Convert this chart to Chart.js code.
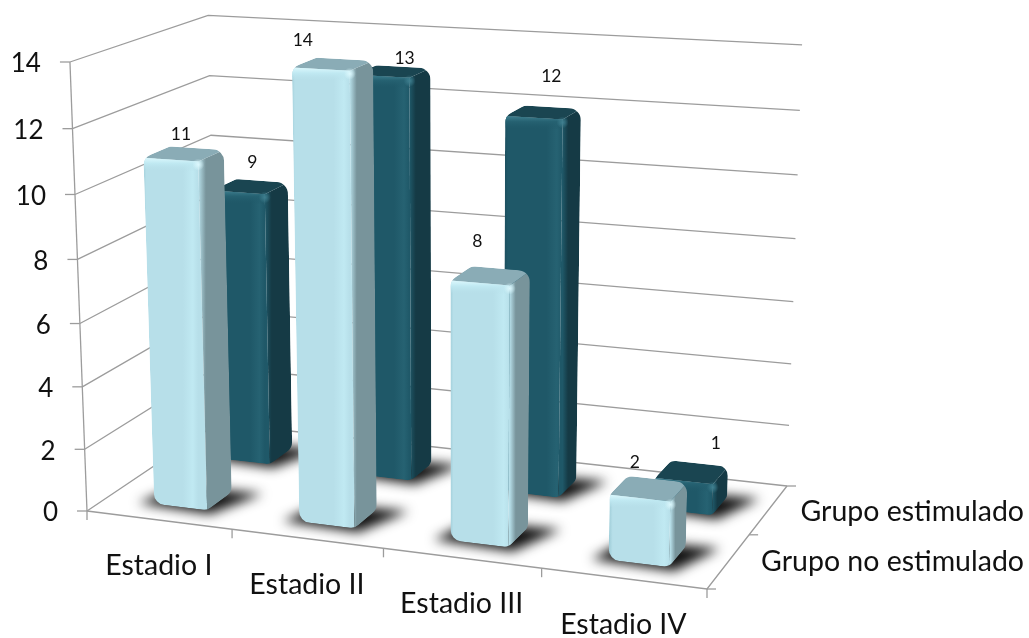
<!DOCTYPE html>
<html>
<head>
<meta charset="utf-8">
<title>Estadios</title>
<script src="https://cdn.jsdelivr.net/npm/chart.js@4"></script>
<style>
  html,body{margin:0;padding:0;background:#fff;}
  canvas{display:block;}
</style>
</head>
<body>
<canvas id="bars3d" width="1029" height="638"></canvas>
<script>
  var categories   = ['Estadio I','Estadio II','Estadio III','Estadio IV'];
  var seriesNames  = ['Grupo no estimulado','Grupo estimulado'];
  var noEstimulado = [11,14,8,2];
  var estimulado   = [9,13,12,1];

  // --- Perspective box: floor corners and the point the verticals run to ---
  var floorQuad = [[87,511],[707,589],[787,486],[218,423]];
  var vanish    = [455,10200];
  var rowCenter = [0.255,0.755];
  var barDepth  = 0.095;
  var barDrop   = 2.5;
  var gridColor = '#9c9c9c';
  var labelFont = 'Lato, "Open Sans", sans-serif';
  // the value labels sit by hand in the original, not centred on the bars
  var labelNudge = [[-3,9],[-30,5],[-13,-6],[-14,2]];
  var labelNudgeBack = [[2,4],[12,15],[8,-7],[24,0]];
  var faces = [
    {edge:'#a3d0db',front:'#b7dfe9',glow:'#c0e9f2',side:'#78949b',top:'#8aacb6',spot:'#dcf8fd'},
    {edge:'#1c5060',front:'#1f5868',glow:'#266272',side:'#153a45',top:'#1a4551',spot:'#3f7f8f'}
  ];

  // unit square -> quad homography, also hands back the scale at that spot
  function homography(q){
    var x0=q[0][0],y0=q[0][1],x1=q[1][0],y1=q[1][1],x2=q[2][0],y2=q[2][1],x3=q[3][0],y3=q[3][1];
    var dx1=x1-x2,dx2=x3-x2,sx=x0-x1+x2-x3,dy1=y1-y2,dy2=y3-y2,sy=y0-y1+y2-y3;
    var den=dx1*dy2-dx2*dy1;
    var g=(sx*dy2-dx2*sy)/den,h=(dx1*sy-sx*dy1)/den;
    var a=x1-x0+g*x1,b=x3-x0+h*x3,d=y1-y0+g*y1,e=y3-y0+h*y3;
    return function(u,v){
      var w=g*u+h*v+1;
      return [(a*u+b*v+x0)/w,(d*u+e*v+y0)/w,w];
    };
  }
  var floorAt = homography(floorQuad);
  var fullHeight = 449; // height of the value axis at the front-left corner

  // t: along categories, d: depth, v: share of the value axis
  function P(t,d,v){
    var f=floorAt(t,d);
    var H=fullHeight/f[2],D=vanish[1]-f[1],b=(D+H)/H;
    var up=D*v/(b-v);
    return [f[0]+(f[0]-vanish[0])/D*up,f[1]-up];
  }
  function tOf(chart,px){ var a=chart.chartArea; return (px-a.left)/(a.right-a.left); }
  function vOf(chart,py){ var a=chart.chartArea; return (a.bottom-py)/(a.bottom-a.top); }

  function line(ctx,pts){
    ctx.beginPath();
    pts.forEach(function(p,i){ if(i) ctx.lineTo(p[0],p[1]); else ctx.moveTo(p[0],p[1]); });
    ctx.stroke();
  }
  function quad(ctx,pts,fill){
    ctx.beginPath();
    pts.forEach(function(p,i){ if(i) ctx.lineTo(p[0],p[1]); else ctx.moveTo(p[0],p[1]); });
    ctx.closePath();
    ctx.fillStyle=fill;
    ctx.fill();
  }
  function roundedPath(ctx,pts,r){
    var n=pts.length;
    ctx.beginPath();
    ctx.moveTo((pts[n-1][0]+pts[0][0])/2,(pts[n-1][1]+pts[0][1])/2);
    for(var i=0;i<n;i++){
      var a=pts[i],b=pts[(i+1)%n];
      ctx.arcTo(a[0],a[1],b[0],b[1],r);
    }
    ctx.closePath();
  }

  // --- Walls, floor, ticks and axis text ---
  function drawBox(chart){
    var ctx=chart.ctx,y=chart.scales.y,x=chart.scales.x;
    ctx.save();
    ctx.strokeStyle=gridColor;
    ctx.lineWidth=1.3;
    ctx.fillStyle='#111';
    ctx.textBaseline='middle';
    y.ticks.forEach(function(tk){
      var v=vOf(chart,y.getPixelForValue(tk.value));
      var a=P(0,0,v);
      line(ctx,[a,P(0,1,v),P(1,1,v)]);
      line(ctx,[[a[0]-10,a[1]],a]);
      ctx.font='26px '+labelFont;
      ctx.textAlign='right';
      ctx.fillText(tk.label,a[0]-29,a[1]+2);
    });
    line(ctx,[P(0,0,1),P(0,0,0)]);
    line(ctx,[P(0,0,0),P(1,0,0),P(1,1,0)]);
    // category ticks and labels follow the slanted front edge
    ctx.font='28.5px '+labelFont;
    categories.forEach(function(name,i){
      var half=(x.getPixelForValue(i+1)-x.getPixelForValue(i))/2;
      var e=P(tOf(chart,x.getPixelForValue(i)-half),0,0);
      line(ctx,[e,[e[0],e[1]+9]]);
      var c=P(tOf(chart,x.getPixelForValue(i)),0,0);
      ctx.textAlign='center';
      ctx.fillText(name,c[0],c[1]+46);
    });
    var last=P(1,0,0);
    line(ctx,[last,[last[0],last[1]+9]]);
    [0,0.5,1].forEach(function(d){
      var e=P(1,d,0);
      line(ctx,[e,[e[0]+9,e[1]]]);
    });
    ctx.textAlign='right';
    ctx.fillText(seriesNames[1],1024,512);
    ctx.fillText(seriesNames[0],1024,562);
    ctx.restore();
  }

  // --- One bar: floor shadow, then the three faces inside a rounded outline ---
  function drawBar(chart,el,row){
    var ctx=chart.ctx,f=faces[row];
    var t0=tOf(chart,el.x-el.width/2),t1=tOf(chart,el.x+el.width/2);
    var d0=rowCenter[row]-barDepth,d1=rowCenter[row]+barDepth;
    var v=vOf(chart,el.y);
    var A=P(t0,d0,0),B=P(t1,d0,0),C=P(t1,d1,0);
    var D=P(t0,d0,v),E=P(t1,d0,v),F=P(t1,d1,v),G=P(t0,d1,v);

    ctx.save();
    ctx.translate(0,barDrop);
    ctx.save();
    ctx.filter='blur(6px)';
    quad(ctx,[P(t0-0.025,d0-0.012,0),P(t1+0.012,d0-0.03,0),P(t1+0.05,d1+0.02,0),P(t0,d1,0)],'#111');
    ctx.restore();

    roundedPath(ctx,[A,B,C,F,G,D],Math.min(12,(A[1]-D[1])/3));
    ctx.clip();

    var g=ctx.createLinearGradient(D[0],0,E[0],0);
    g.addColorStop(0,f.edge);
    g.addColorStop(0.05,f.front);
    g.addColorStop(0.72,f.front);
    g.addColorStop(0.9,f.glow);
    g.addColorStop(1,f.front);
    quad(ctx,[A,B,E,D],g);

    var s=ctx.createLinearGradient(E[0],0,F[0],0);
    s.addColorStop(0,f.front);
    s.addColorStop(0.3,f.side);
    s.addColorStop(1,f.side);
    quad(ctx,[B,C,F,E],s);
    quad(ctx,[D,E,F,G],f.top);

    // lit bevel under the top face
    var b=ctx.createLinearGradient(0,D[1],0,D[1]+14);
    b.addColorStop(0,f.spot);
    b.addColorStop(0.4,f.glow);
    b.addColorStop(1,f.front+'00');
    quad(ctx,[D,E,[E[0],E[1]+10],[D[0],D[1]+12]],b);

    var o=ctx.createRadialGradient(E[0],E[1]+3,0,E[0],E[1]+3,6);
    o.addColorStop(0,f.spot);
    o.addColorStop(1,f.spot+'00');
    ctx.fillStyle=o;
    ctx.fillRect(E[0]-7,E[1]-4,14,14);
    ctx.restore();
  }

  var box3d = {
    id:'box3d',
    beforeDatasetsDraw:function(chart){ drawBox(chart); },
    beforeDatasetDraw:function(chart,args){
      args.meta.data.forEach(function(el){ drawBar(chart,el,args.index); });
      return false;
    },
    afterDatasetsDraw:function(chart){
      var ctx=chart.ctx;
      ctx.save();
      ctx.font='17.5px '+labelFont;
      ctx.fillStyle='#111';
      ctx.textAlign='center';
      ctx.textBaseline='middle';
      chart.data.datasets.forEach(function(ds,row){
        var nudge=row?labelNudgeBack:labelNudge;
        chart.getDatasetMeta(row).data.forEach(function(el,i){
          var p=P(tOf(chart,el.x),rowCenter[row],vOf(chart,el.y));
          ctx.fillText(ds.data[i],p[0]+nudge[i][0],p[1]-26+nudge[i][1]);
        });
      });
      ctx.restore();
    }
  };

  new Chart(document.getElementById('bars3d'),{
    type:'bar',
    data:{
      labels:categories,
      datasets:[
        {label:seriesNames[0],data:noEstimulado,backgroundColor:'#b7dfe9',grouped:false,barPercentage:0.37,categoryPercentage:1},
        {label:seriesNames[1],data:estimulado,backgroundColor:'#1f5868',grouped:false,barPercentage:0.37,categoryPercentage:1}
      ]
    },
    options:{
      responsive:false,
      animation:false,
      layout:{padding:{left:87,right:322,top:62,bottom:127}},
      plugins:{legend:{display:false},title:{display:false},tooltip:{enabled:false}},
      scales:{
        x:{display:false,grid:{display:false}},
        y:{display:false,min:0,max:14,ticks:{stepSize:2}}
      }
    },
    plugins:[box3d]
  });
</script>
</body>
</html>
